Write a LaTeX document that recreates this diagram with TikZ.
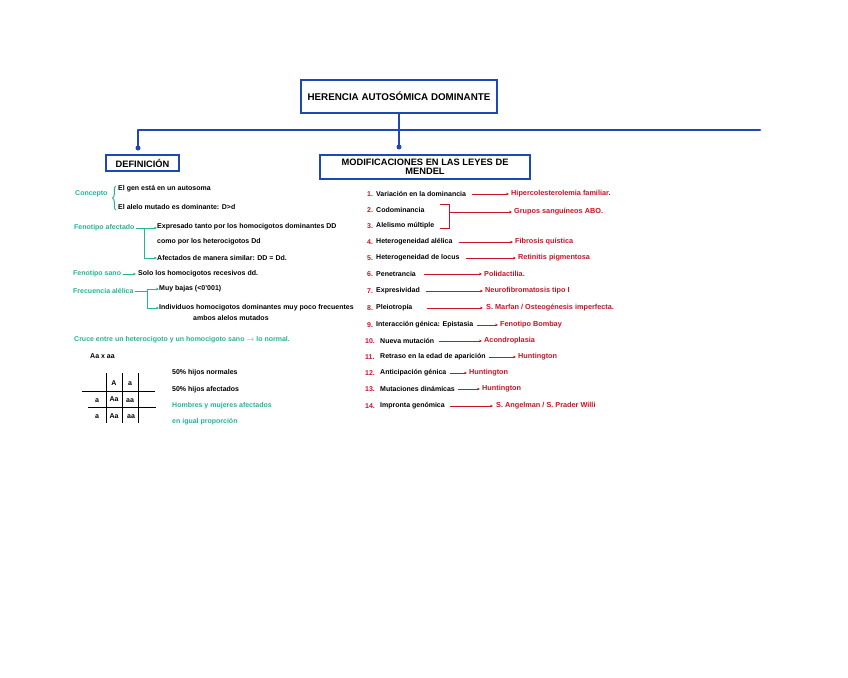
\documentclass[tikz,border=0pt]{standalone}
\usepackage{fontspec}
\setmainfont{Liberation Sans}
\usetikzlibrary{arrows.meta,decorations.pathreplacing}
\definecolor{boxblue}{RGB}{30,72,180}
\definecolor{lgreen}{RGB}{40,178,150}
\definecolor{dred}{RGB}{200,20,40}
\tikzset{
  bluebox/.style={draw=boxblue, line width=2.5pt, fill=white, inner sep=0pt, align=center,
    font=\bfseries\fontsize{9.3}{9.5}\selectfont},
  blueline/.style={draw=boxblue, line width=2.5pt},
  bdot/.style={circle, fill=boxblue, inner sep=0pt, minimum size=5pt},
  txt/.style={anchor=west, inner sep=0pt, font=\bfseries\fontsize{7}{8}\selectfont, text=black},
  glab/.style={txt, text=lgreen},
  res/.style={txt, text=dred, font=\bfseries\fontsize{7.3}{8}\selectfont},
  num/.style={txt, text=dred},
  redarr/.style={draw=dred, line width=0.8pt, -{Stealth[length=3pt,width=2.6pt]}},
  redline/.style={draw=dred, line width=0.8pt},
  greenarr/.style={draw=lgreen, line width=0.8pt, -{Stealth[length=3pt,width=2.6pt]}},
  greenline/.style={draw=lgreen, line width=0.8pt},
  gridline/.style={draw=black, line width=1pt},
}
\begin{document}
\begin{tikzpicture}[x=1pt,y={(0pt,-1pt)}]
\useasboundingbox[fill=white] (0,0) rectangle (848,677);

% ---- header boxes ----
\node[bluebox, minimum width=196pt, minimum height=33pt, font=\bfseries\fontsize{9.8}{10}\selectfont] (title) at (399,96.5) {HERENCIA AUTOSÓMICA DOMINANTE};
\node[bluebox, minimum width=73pt, minimum height=16pt] (def) at (142.5,163) {DEFINICIÓN};
\node[bluebox, minimum width=210pt, minimum height=24pt] (mod) at (425,167) {MODIFICACIONES EN LAS LEYES DE\\MENDEL};

\coordinate (hl) at (138,130);
\coordinate (hr) at (760,130);
\draw[blueline] (title.south) -- (title.south |- hl);
\draw[blueline, line cap=round] (hl) -- (hr);
\draw[blueline] (hl) -- (138,148) node[bdot] (d1) {};
\draw[blueline] (title.south |- hl) -- (399,147) node[bdot] (d2) {};

% ---- Definicion ----
\node[glab] (concepto) at (75,194) {Concepto};
\draw[greenline, line width=1pt, decorate, decoration={brace, amplitude=3.5pt}] (116,210) -- (116,186);
\node[txt] (c1) at (118,189) {El gen está en un autosoma};
\node[txt] (c2) at (118,207) {El alelo mutado es dominante: D>d};

\node[glab] (fa) at (74,228) {Fenotipo afectado};
\coordinate (fa1) at (144,228);
\node[txt] (e1) at (157,227) {Expresado tanto por los homocigotos dominantes DD};
\node[txt] (e2) at (157,242) {como por los heterocigotos Dd};
\node[txt] (e3) at (157,258) {Afectados de manera similar: DD = Dd.};
\draw[greenline] ([xshift=1pt]fa.east) -- (fa1);
\draw[greenarr] (fa1) -- (e1.west |- fa1);
\draw[greenarr] (fa1) |- (e3.west);

\node[glab] (fs) at (73,274) {Fenotipo sano};
\node[txt] (s1) at (138,274) {Solo los homocigotos recesivos dd.};
\draw[greenarr] ([xshift=2pt]fs.east) -- ([xshift=-2pt]s1.west);

\node[glab] (fr) at (73,291) {Frecuencia alélica};
\coordinate (fr1) at (147,291);
\node[txt] (f1) at (159,289) {Muy bajas (<0'001)};
\node[txt] (f2) at (159,308) {Individuos homocigotos dominantes muy poco frecuentes};
\node[txt] (f3) at (193,318) {ambos alelos mutados};
\draw[greenline] ([xshift=1pt]fr.east) -- (fr1);
\draw[greenarr] (fr1) |- (f1.west);
\draw[greenarr] (fr1) |- (f2.west);

\node[glab] (cr) at (74,340) {Cruce entre un heterocigoto y un homocigoto sano $\rightarrow$ lo normal.};
\node[txt] (cx) at (90,356) {Aa x aa};

% Punnett square
\draw[gridline] (106,373) -- (106,423);
\draw[gridline] (122,373) -- (122,423);
\draw[gridline] (138,373) -- (138,423);
\draw[gridline] (82,391) -- (155,391);
\draw[gridline] (88,407) -- (156,407);
\node[txt, anchor=center] (pA) at (114,383) {A};
\node[txt, anchor=center] (pa) at (130,383.5) {a};
\node[txt, anchor=center] (qa1) at (97,400.5) {a};
\node[txt, anchor=center] (q11) at (114,399.5) {Aa};
\node[txt, anchor=center] (q12) at (130,400.5) {aa};
\node[txt, anchor=center] (qa2) at (97,416.5) {a};
\node[txt, anchor=center] (q21) at (114,416) {Aa};
\node[txt, anchor=center] (q22) at (131,417) {aa};

\node[txt] (p1) at (172,373) {50\% hijos normales};
\node[txt] (p2) at (172,390) {50\% hijos afectados};
\node[glab] (p3) at (172,406) {Hombres y mujeres afectados};
\node[glab] (p4) at (172,422) {en igual proporción};

% ---- Modificaciones ----
\node[num] (n1) at (367,194) {1.};
\node[txt] (t1) at (376,194) {Variación en la dominancia};
\node[res] (r1) at (511,194) {Hipercolesterolemia familiar.};
\draw[redarr] ([xshift=6pt]t1.east) -- ([xshift=-2pt]r1.west);

\node[num] (n2) at (367,210) {2.};
\node[txt] (t2) at (376,210) {Codominancia};
\node[num] (n3) at (367,226) {3.};
\node[txt] (t3) at (376,226) {Alelismo múltiple};
\node[res] (r2) at (514,212) {Grupos sanguíneos ABO.};
\coordinate (b2) at (440,204);
\coordinate (b3) at (440,228);
\coordinate (b23) at (449,212);
\draw[redline] (b2) -- (449,204) -- (449,228) -- (b3);
\draw[redarr] (b23) -- ([xshift=-2pt]r2.west);

\node[num] (n4) at (367,242) {4.};
\node[txt] (t4) at (376,242) {Heterogeneidad alélica};
\node[res] (r4) at (515,242) {Fibrosis quística};
\draw[redarr] ([xshift=6pt]t4.east) -- ([xshift=-2pt]r4.west);

\node[num] (n5) at (367,258) {5.};
\node[txt] (t5) at (376,258) {Heterogeneidad de locus};
\node[res] (r5) at (518,258) {Retinitis pigmentosa};
\draw[redarr] ([xshift=6pt]t5.east) -- ([xshift=-2pt]r5.west);

\node[num] (n6) at (367,274) {6.};
\node[txt] (t6) at (376,274) {Penetrancia};
\node[res] (r6) at (484,274) {Polidactilia.};
\draw[redarr] ([xshift=8pt]t6.east) -- ([xshift=-2pt]r6.west);

\node[num] (n7) at (367,291) {7.};
\node[txt] (t7) at (376,291) {Expresividad};
\node[res] (r7) at (485,291) {Neurofibromatosis tipo I};
\draw[redarr] ([xshift=6pt]t7.east) -- ([xshift=-2pt]r7.west);

\node[num] (n8) at (367,308) {8.};
\node[txt] (t8) at (376,308) {Pleiotropía};
\node[res] (r8) at (486,308) {S. Marfan / Osteogénesis imperfecta.};
\draw[redarr] ([xshift=14pt]t8.east) -- ([xshift=-3pt]r8.west);

\node[num] (n9) at (367,325) {9.};
\node[txt] (t9) at (376,325) {Interacción génica: Epistasia};
\node[res] (r9) at (500,325) {Fenotipo Bombay};
\draw[redarr] ([xshift=3pt]t9.east) -- ([xshift=-2pt]r9.west);

\node[num] (n10) at (365,341) {10.};
\node[txt] (t10) at (380,341) {Nueva mutación};
\node[res] (r10) at (484,341) {Acondroplasia};
\draw[redarr] ([xshift=5pt]t10.east) -- ([xshift=-2pt]r10.west);

\node[num] (n11) at (365,357) {11.};
\node[txt] (t11) at (380,357) {Retraso en la edad de aparición};
\node[res] (r11) at (518,357) {Huntington};
\draw[redarr] ([xshift=3pt]t11.east) -- ([xshift=-2pt]r11.west);

\node[num] (n12) at (365,373) {12.};
\node[txt] (t12) at (380,373) {Anticipación génica};
\node[res] (r12) at (469,373) {Huntington};
\draw[redarr] ([xshift=3pt]t12.east) -- ([xshift=-2pt]r12.west);

\node[num] (n13) at (365,389) {13.};
\node[txt] (t13) at (380,389) {Mutaciones dinámicas};
\node[res] (r13) at (482,389) {Huntington};
\draw[redarr] ([xshift=3pt]t13.east) -- ([xshift=-2pt]r13.west);

\node[num] (n14) at (365,406) {14.};
\node[txt] (t14) at (380,406) {Impronta genómica};
\node[res] (r14) at (496,406) {S. Angelman / S. Prader Willi};
\draw[redarr] ([xshift=5pt]t14.east) -- ([xshift=-3pt]r14.west);
\end{tikzpicture}
\end{document}
